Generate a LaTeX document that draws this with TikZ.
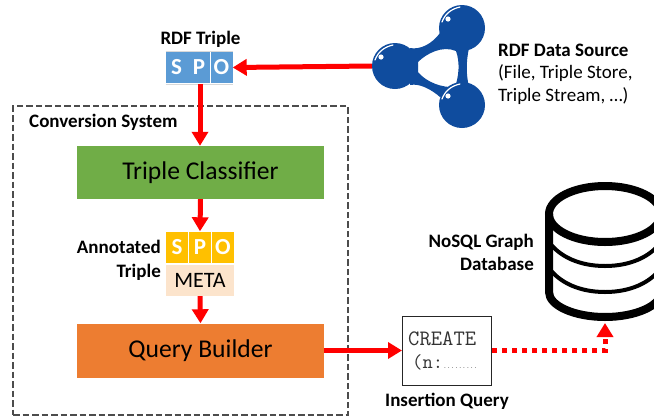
\documentclass[tikz,border=0pt]{standalone}
\usepackage{fontspec}
\setmainfont{Carlito}
\usetikzlibrary{arrows.meta,positioning}
\definecolor{spoblue}{HTML}{5B9BD5}
\definecolor{spogold}{HTML}{FFC000}
\definecolor{metabg}{HTML}{FCE4CC}
\definecolor{greenbox}{HTML}{70AD47}
\definecolor{orangebox}{HTML}{ED7D31}
\definecolor{netblue}{HTML}{0F4C9E}
\definecolor{arrowred}{HTML}{FF0000}
\tikzset{
  x=1pt,y=-1pt,
  flow/.style={draw=arrowred,line width=5pt,-{Triangle[length=14pt,width=16pt]}},
  dotflow/.style={draw=arrowred,line width=5pt,dash pattern=on 5pt off 5pt,-{Triangle[length=14pt,width=16pt]}},
  cell/.style={minimum width=22pt,minimum height=31pt,inner sep=0pt,text=white,font=\fontsize{23}{23}\selectfont\bfseries},
  bluecell/.style={cell,fill=spoblue},
  goldcell/.style={cell,fill=spogold},
  stage/.style={minimum width=247pt,inner sep=0pt,text=black,font=\fontsize{25.6}{26}\selectfont},
  lab/.style={inner sep=0pt,text=black,font=\fontsize{19}{23}\selectfont\bfseries},
  plain/.style={inner sep=0pt,text=black,font=\fontsize{19}{23}\selectfont},
  dbline/.style={draw=black,line width=8pt},
  dbthin/.style={draw=black,line width=4pt},
}
\begin{document}
\begin{tikzpicture}
\useasboundingbox (0,0) rectangle (654,416);
\clip (0,0) rectangle (654,416);
\fill[white] (0,0) rectangle (654,416);

% conversion system frame
\node[draw=black!70,line width=2pt,dash pattern=on 6.5pt off 3pt,minimum width=335pt,minimum height=309pt,inner sep=0pt] (frame) at (180.5,260.5) {};
\node[lab,anchor=west] (convlabel) at (29,122) {Conversion System};

% RDF triple
\node[lab,anchor=center] (rdflabel) at (200.5,39) {RDF Triple};
\node[bluecell] (rs) at (176.5,67.5) {S};
\node[bluecell] (rp) at (199,67.5) {P};
\node[bluecell] (ro) at (221.5,67.5) {O};
\draw[draw=black!15,line width=1pt] (165.5,51.5) -- (233,51.5) (165.5,84.5) -- (233,84.5);

% stages
\node[stage,fill=greenbox,minimum height=53pt] (classifier) at (200.5,172.5) {Triple Classifier};
\node[stage,fill=orangebox,minimum height=54pt] (builder) at (200.5,350.5) {Query Builder};

% annotated triple
\node[goldcell] (as) at (177,247) {S};
\node[goldcell] (ap) at (200,247) {P};
\node[goldcell] (ao) at (223,247) {O};
\node[fill=metabg,minimum width=68pt,minimum height=31pt,inner sep=0pt,font=\fontsize{22}{22}\selectfont] (meta) at (200,280.5) {META};
\node[lab,align=right,anchor=east,font=\fontsize{19}{24}\selectfont\bfseries] (annot) at (161,260) {Annotated\\Triple};

% RDF data source icon
\path[fill=netblue,even odd rule]
  (410,48) .. controls (420,50) and (432,44) .. (440,33)
  -- (469,48) .. controls (466,62) and (466,74) .. (469,87)
  -- (440,97) .. controls (432,90) and (420,83) .. (410,85) -- cycle
  (418,62) .. controls (426,54) and (442,45) .. (456,51)
  .. controls (460,62) and (459,76) .. (455,87)
  .. controls (442,88) and (426,82) .. (418,72) -- cycle;
\node[circle,fill=netblue,minimum size=46pt,inner sep=0pt] (ndl) at (395,66) {};
\node[circle,fill=netblue,minimum size=46pt,inner sep=0pt] (ndt) at (462,28) {};
\node[circle,fill=netblue,minimum size=46pt,inner sep=0pt] (ndb) at (462,105) {};
\foreach \cx/\cy in {395/66,462/28,462/105}{
  \draw[white,line width=1.2pt,line cap=round] (\cx-20,\cy-6) .. controls (\cx-17,\cy-14) and (\cx-11,\cy-19) .. (\cx-2,\cy-21);
  \fill[white] (\cx-14,\cy-9) circle (2.6pt);
}
\node[lab,anchor=west] (srclabel) at (498,50) {RDF Data Source};
\node[plain,anchor=west,align=left] (srctext) at (498,85) {(File, Triple Store,\\Triple Stream, …)};

% database
\coordinate (dbtop) at (605,214);
\draw[dbline] (605,214) ellipse (56 and 28);
\draw[dbline] (549,214) -- (549,292) .. controls (549,306) and (575,317) .. (605,317) .. controls (635,317) and (661,306) .. (661,292) -- (661,214);
\draw[dbthin] (549,242) .. controls (560,257) and (580,266) .. (605,266) .. controls (630,266) and (650,257) .. (661,242);
\draw[dbthin] (549,268) .. controls (560,283) and (580,292) .. (605,292) .. controls (630,292) and (650,283) .. (661,268);
\coordinate (dbin) at (605,323);
\node[lab,align=right,anchor=east] (dblabel) at (534,252) {NoSQL Graph\\Database};

% insertion query
\node[draw=black!85,line width=1pt,fill=white,minimum width=89pt,minimum height=69pt,inner sep=0pt] (query) at (447,350.5) {};
\node[inner sep=0pt,anchor=west,text=black!80,font=\ttfamily\fontsize{22}{22}\selectfont] (qa) at (408,339) {CREATE};
\node[inner sep=0pt,anchor=base west,text=black!80,font=\ttfamily\fontsize{20}{20}\selectfont] (qb) at (412,368) {(n:{\fontsize{7.2}{8}\selectfont .........}};
\node[lab,anchor=center] (qlabel) at (447,401) {Insertion Query};

% connectors
\coordinate (tripleout) at (200,84);
\draw[flow] (tripleout) -- (tripleout |- classifier.north);
\draw[flow] (ndl.west) -- (ro.east);
\draw[flow] (classifier.south) -- (ap.north);
\draw[flow] (meta.south) -- (builder.north);
\draw[flow] (builder.east) -- (query.west);
\draw[dotflow] (query.east) -| (dbin);
\end{tikzpicture}
\end{document}
